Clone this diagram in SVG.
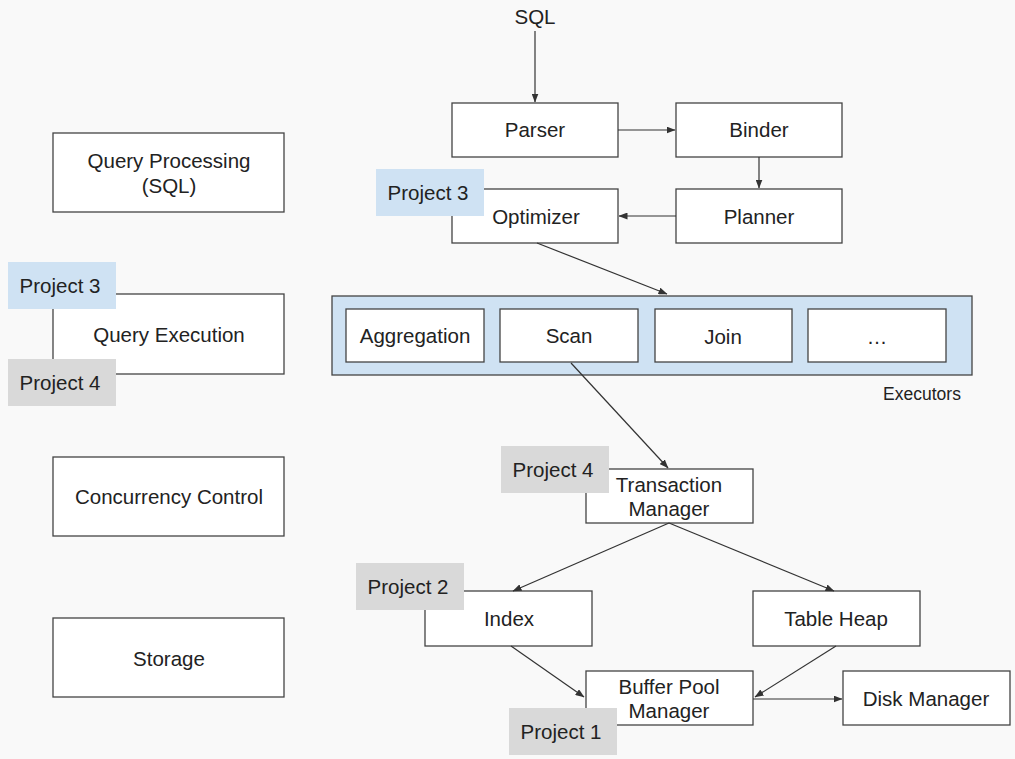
<svg xmlns="http://www.w3.org/2000/svg" width="1015" height="759" viewBox="0 0 1015 759">
<defs>
<style>
.box{fill:#ffffff;stroke:#444444;stroke-width:1.3}
.exec{fill:#cfe2f3;stroke:#444444;stroke-width:1.3}
.blue{fill:#cfe2f3}
.gray{fill:#d9d9d9}
text{font-family:"Liberation Sans",Arial,sans-serif;font-size:20.5px;fill:#222222;text-anchor:middle}
.small{font-size:17.5px}
.conn line{stroke:#333333;stroke-width:1.2;marker-end:url(#arr)}
</style>
<marker id="arr" markerWidth="9" markerHeight="7" refX="8.5" refY="3.5" orient="auto" markerUnits="userSpaceOnUse">
<path d="M0,0 L9,3.5 L0,7 z" fill="#333333"/>
</marker>
</defs>
<rect width="1015" height="759" fill="#f9f9f9"/>

<g id="sql"><text x="535" y="24">SQL</text></g>

<g id="query-processing"><rect class="box" x="53" y="133" width="231" height="79"/><text x="169" y="168">Query Processing</text><text x="169" y="193">(SQL)</text></g>
<g id="query-execution"><rect class="box" x="53" y="294" width="231" height="80"/><text x="169" y="342">Query Execution</text></g>
<g id="concurrency-control"><rect class="box" x="53" y="457" width="231" height="79"/><text x="169" y="504">Concurrency Control</text></g>
<g id="storage"><rect class="box" x="53" y="618" width="231" height="79"/><text x="169" y="666">Storage</text></g>

<g id="parser"><rect class="box" x="452" y="103" width="166" height="54"/><text x="535" y="137">Parser</text></g>
<g id="binder"><rect class="box" x="676" y="103" width="166" height="54"/><text x="759" y="137">Binder</text></g>
<g id="optimizer"><rect class="box" x="452" y="189" width="166" height="54"/><text x="536" y="224">Optimizer</text></g>
<g id="planner"><rect class="box" x="676" y="189" width="166" height="54"/><text x="759" y="224">Planner</text></g>

<g id="executors"><rect class="exec" x="332" y="296" width="640" height="79"/><text class="small" x="922" y="400">Executors</text></g>
<g id="aggregation"><rect class="box" x="346" y="309" width="138" height="53"/><text x="415" y="343">Aggregation</text></g>
<g id="scan"><rect class="box" x="500" y="309" width="138" height="53"/><text x="569" y="343">Scan</text></g>
<g id="join"><rect class="box" x="655" y="309" width="137" height="53"/><text x="723" y="344">Join</text></g>
<g id="more"><rect class="box" x="808" y="309" width="138" height="53"/><text x="877" y="344">…</text></g>

<g id="transaction-manager"><rect class="box" x="586" y="469" width="167" height="54"/><text x="669" y="492">Transaction</text><text x="669" y="516">Manager</text></g>
<g id="index"><rect class="box" x="425" y="591" width="167" height="55"/><text x="509" y="626">Index</text></g>
<g id="table-heap"><rect class="box" x="753" y="591" width="167" height="55"/><text x="836" y="626">Table Heap</text></g>
<g id="buffer-pool-manager"><rect class="box" x="586" y="671" width="167" height="54"/><text x="669" y="694">Buffer Pool</text><text x="669" y="718">Manager</text></g>
<g id="disk-manager"><rect class="box" x="843" y="671" width="167" height="54"/><text x="926" y="706">Disk Manager</text></g>

<g id="connectors" class="conn">
<line x1="535" y1="31" x2="535" y2="102"/>
<line x1="618" y1="130" x2="675" y2="130"/>
<line x1="759" y1="157" x2="759" y2="188"/>
<line x1="676" y1="216" x2="619" y2="216"/>
<line x1="537" y1="243" x2="667" y2="294"/>
<line x1="571" y1="363" x2="668" y2="468"/>
<line x1="669" y1="523" x2="513" y2="591"/>
<line x1="669" y1="523" x2="834" y2="591"/>
<line x1="511" y1="646" x2="584" y2="697"/>
<line x1="836" y1="646" x2="755" y2="697"/>
<line x1="753" y1="699" x2="842" y2="699"/>
</g>

<g id="label-project3-optimizer"><rect class="blue" x="376" y="169" width="108" height="47"/><text x="428" y="200">Project 3</text></g>
<g id="label-project3-execution"><rect class="blue" x="8" y="262" width="108" height="47"/><text x="60" y="293">Project 3</text></g>
<g id="label-project4-execution"><rect class="gray" x="8" y="359" width="108" height="47"/><text x="60" y="390">Project 4</text></g>
<g id="label-project4-transaction"><rect class="gray" x="501" y="446" width="108" height="47"/><text x="553" y="477">Project 4</text></g>
<g id="label-project2-index"><rect class="gray" x="356" y="563" width="108" height="47"/><text x="408" y="594">Project 2</text></g>
<g id="label-project1-buffer"><rect class="gray" x="509" y="708" width="108" height="47"/><text x="561" y="739">Project 1</text></g>
</svg>
